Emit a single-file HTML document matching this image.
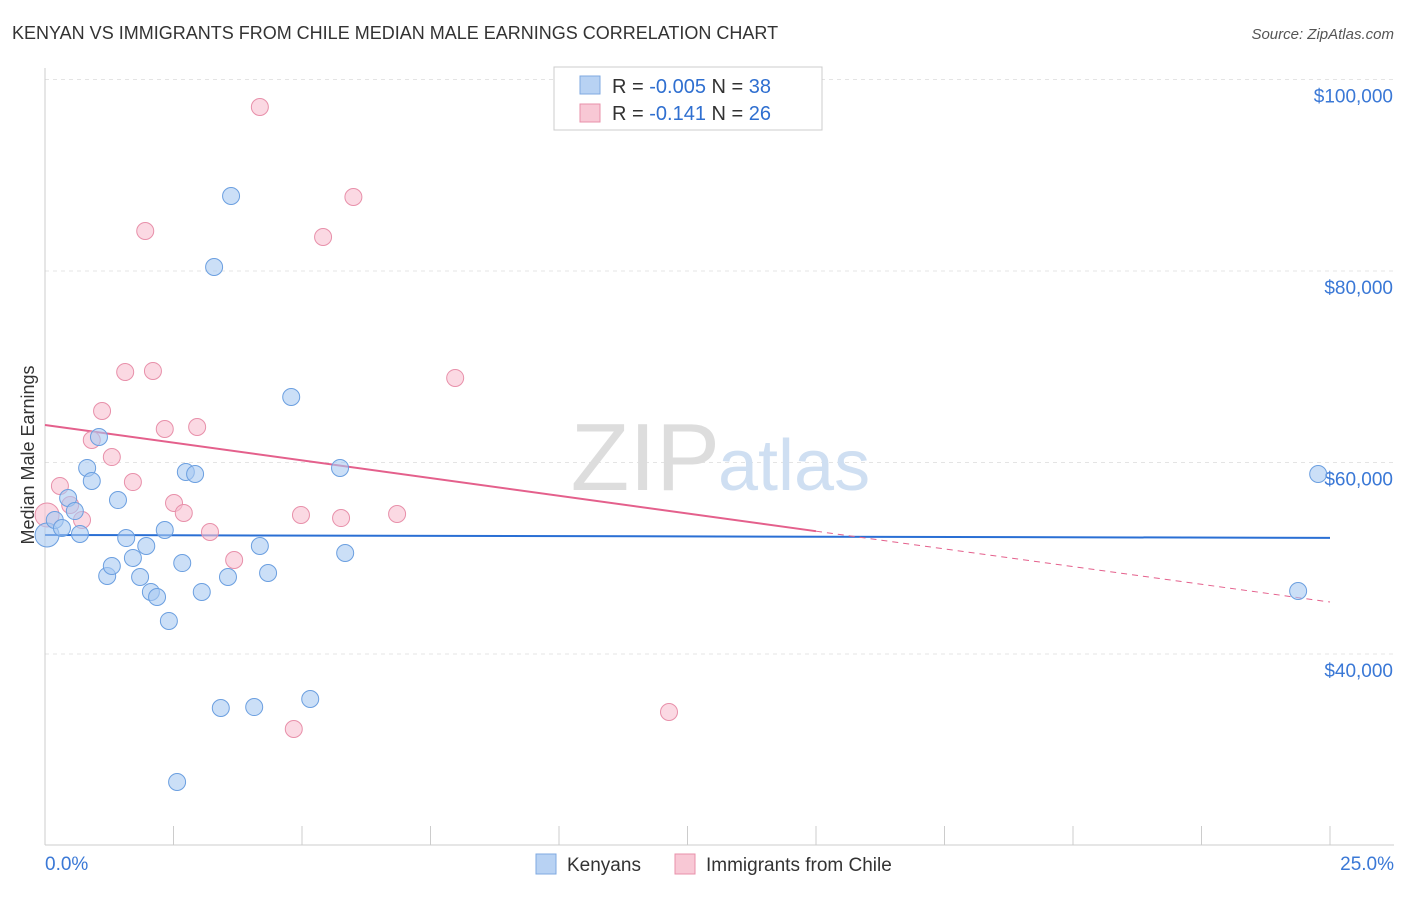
<!DOCTYPE html>
<html><head><meta charset="utf-8"><style>
body{margin:0;background:#fff;font-family:"Liberation Sans",sans-serif}
svg text{font-family:"Liberation Sans",sans-serif}
</style></head><body>
<svg id="chart" width="1406" height="892" xmlns="http://www.w3.org/2000/svg">
<text x="12" y="39" font-size="18" fill="#333">KENYAN VS IMMIGRANTS FROM CHILE MEDIAN MALE EARNINGS CORRELATION CHART</text>
<text x="1394" y="39" font-size="15" fill="#555" text-anchor="end" font-style="italic">Source: ZipAtlas.com</text>
<g id="grid"></g>
<g id="axes"></g>
<text x="720" y="490" font-size="96" fill="#ddd" text-anchor="end" font-family="Liberation Serif">ZIP</text>
<text x="718" y="490" font-size="72" fill="#cfdff2">atlas</text>
<text transform="translate(34,455) rotate(-90)" font-size="18" fill="#333" text-anchor="middle">Median Male Earnings</text>
<g id="trends"></g>
<g id="points"></g>
<g>
<rect x="554" y="67" width="268" height="63" fill="#fff" stroke="#ccc"/>
<rect x="580" y="76" width="20" height="18" fill="#b8d2f3" stroke="#7fa9e0"/>
<text x="612" y="93" font-size="20" fill="#333">R = <tspan fill="#2f6fd0">-0.005</tspan>   N = <tspan fill="#2f6fd0">38</tspan></text>
<rect x="580" y="104" width="20" height="18" fill="#f8c8d5" stroke="#e890aa"/>
<text x="612" y="120" font-size="20" fill="#333">R =   <tspan fill="#2f6fd0">-0.141</tspan>   N = <tspan fill="#2f6fd0">26</tspan></text>
</g>
<g>
<rect x="536" y="854" width="20" height="20" fill="#b8d2f3" stroke="#7fa9e0"/>
<text x="567" y="871" font-size="19" fill="#333">Kenyans</text>
<rect x="675" y="854" width="20" height="20" fill="#f8c8d5" stroke="#e890aa"/>
<text x="706" y="871" font-size="19" fill="#333">Immigrants from Chile</text>
</g>
</svg>
<script>
const yTicks=[40000,60000,80000,100000];
const yTickLabels=["$40,000","$60,000","$80,000","$100,000"];
const xTickLabels=["0.0%","25.0%"];
const kenyanX=[0.04,0.19,0.33,0.45,0.58,0.68,0.82,0.91,1.05,1.21,1.30,1.42,1.58,1.71,1.85,1.97,2.06,2.18,2.33,2.41,2.57,2.67,2.74,2.92,3.05,3.29,3.42,3.56,3.62,4.07,4.18,4.34,4.79,5.16,5.74,5.84,24.38,24.77];
const kenyanY=[52430,54000,53160,56290,54930,52530,59430,58070,62660,48150,49190,56080,52110,50030,48040,51280,46480,45950,52950,43450,26630,49500,59010,58800,46480,80420,34360,48040,87830,34460,51280,48460,66840,35300,59430,50550,46580,58800];
const chileX=[0.04,0.29,0.49,0.72,0.91,1.11,1.30,1.56,1.71,1.95,2.10,2.33,2.51,2.70,2.96,3.21,3.68,4.18,4.84,4.98,5.41,5.76,6.00,6.85,7.98,12.14];
const chileY=[54520,57550,55560,54000,62350,65380,60570,69450,57960,84180,69560,63500,55770,54730,63710,52740,49820,97130,32170,54520,83550,54200,87730,54620,68830,33940];
const kenyanTrend=[52430,52130];
const chileTrend=[63920,45430];
const NS="http://www.w3.org/2000/svg";
const X=v=>45+v/25*1285;
const Y=v=>654-(v-40000)*191.5/20000;
function mk(tag,attrs,parent){const e=document.createElementNS(NS,tag);for(const k in attrs)e.setAttribute(k,attrs[k]);document.getElementById(parent).appendChild(e);return e;}
yTicks.forEach((t,i)=>{
 const l=mk('line',{x1:45,x2:1394,y1:Y(t),y2:Y(t),stroke:'#e4e4e4','stroke-dasharray':'4,4'},'grid');
 
 
 const tx=mk('text',{x:1393,y:Y(t)+23,'font-size':19,fill:'#3a78d6','text-anchor':'end'},'grid');tx.textContent=yTickLabels[i];
 
 
});
mk('line',{x1:45,x2:45,y1:68,y2:845,stroke:'#ccc'},'axes');
mk('line',{x1:45,x2:1394,y1:845,y2:845,stroke:'#ccc'},'axes');
for(let i=0;i<=10;i++){mk('line',{x1:X(i*2.5),x2:X(i*2.5),y1:826,y2:845,stroke:'#ccc'},'axes');}
const xl0=mk('text',{x:45,y:870,'font-size':19,fill:'#3a78d6'},'axes');xl0.textContent=xTickLabels[0];


const xl1=mk('text',{x:1394,y:870,'font-size':19,fill:'#3a78d6','text-anchor':'end'},'axes');xl1.textContent=xTickLabels[1];


const bt=mk('line',{x1:X(0),y1:Y(kenyanTrend[0]),x2:X(25),y2:Y(kenyanTrend[1]),stroke:'#2a6fd4','stroke-width':2},'trends');


const cy=x=>chileTrend[0]+(chileTrend[1]-chileTrend[0])*x/25;
const pt=mk('line',{x1:X(0),y1:Y(cy(0)),x2:X(15),y2:Y(cy(15)),stroke:'#e4608c','stroke-width':2},'trends');


const pd=mk('line',{x1:X(15),y1:Y(cy(15)),x2:X(25),y2:Y(cy(25)),stroke:'#e4608c','stroke-width':1,'stroke-dasharray':'6,5'},'trends');


function pts(xs,ys,fill,stroke,name){xs.forEach((x,i)=>{
 const c=mk('circle',{cx:X(x),cy:Y(ys[i]),r:i===0?12:8.5,fill:fill,'fill-opacity':0.6,stroke:stroke,'stroke-width':1},'points');
 
 
});}
pts(chileX,chileY,'#f8c0d0','#e890aa','chile-point');
pts(kenyanX,kenyanY,'#a9c9f2','#6b9fe0','kenyan-point');
</script>
</body></html>
